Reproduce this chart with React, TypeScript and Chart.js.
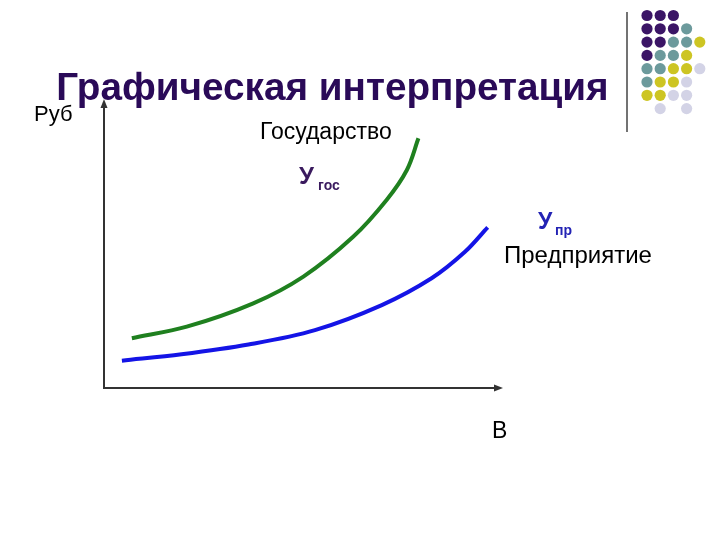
import React, { useEffect, useRef } from "react";
import { Chart, registerables } from "chart.js";

Chart.register(...registerables);

// ---- data (axis units 0..100) ----
const govX = [7, 20.8, 37.5, 50.1, 62.6, 71, 76.1, 79];
const govY = [17.3, 21.3, 29.4, 38.7, 52.5, 65.3, 75.7, 86.7];
const entX = [4.5, 19.5, 36.3, 53, 69.8, 82.3, 90.7, 96.4];
const entY = [9.5, 11.7, 15.1, 20.1, 28.8, 38.1, 47.3, 55.8];

const titleText = "Графическая интерпретация";
const yAxisLabel = "Руб";
const xAxisLabel = "В";
const govLabel = "Государство";
const entLabel = "Предприятие";
const govCurveMain = "У";
const govCurveSub = "гос";
const entCurveMain = "У";
const entCurveSub = "пр";

// decorative dot pattern (P purple, T teal, Y yellow, L lavender, . empty)
const dotRows = ["PPP..", "PPPT.", "PPTTY", "PTTY.", "TTYYL", "TYYL.", "YYLL.", ".L.L."];
const dotColors: Record<string, string> = {
  P: "#3b1566",
  T: "#6c9a9c",
  Y: "#cdc523",
  L: "#d3d3e6",
};

const FONT = '"Liberation Sans", Arial, sans-serif';

const decorPlugin = {
  id: "decor",
  afterDraw(chart: any) {
    const ctx: CanvasRenderingContext2D = chart.ctx;
    const a = chart.chartArea;
    ctx.save();

    // axes
    ctx.strokeStyle = "#333333";
    ctx.fillStyle = "#333333";
    ctx.lineWidth = 2;
    ctx.beginPath();
    ctx.moveTo(a.left, a.top + 6);
    ctx.lineTo(a.left, a.bottom);
    ctx.lineTo(a.right - 6, a.bottom);
    ctx.stroke();
    // arrow heads
    ctx.beginPath();
    ctx.moveTo(a.left, a.top - 1);
    ctx.lineTo(a.left - 3.5, a.top + 8);
    ctx.lineTo(a.left + 3.5, a.top + 8);
    ctx.closePath();
    ctx.fill();
    ctx.beginPath();
    ctx.moveTo(a.right + 1, a.bottom);
    ctx.lineTo(a.right - 8, a.bottom - 3.5);
    ctx.lineTo(a.right - 8, a.bottom + 3.5);
    ctx.closePath();
    ctx.fill();

    // title
    ctx.textBaseline = "alphabetic";
    ctx.textAlign = "center";
    ctx.fillStyle = "#2a0a58";
    ctx.font = `bold 38.7px ${FONT}`;
    ctx.fillText(titleText, 332.5, 100);
    ctx.textAlign = "left";

    // plain labels
    ctx.fillStyle = "#000000";
    ctx.font = `22px ${FONT}`;
    ctx.fillText(yAxisLabel, 34, 121);
    ctx.font = `23px ${FONT}`;
    ctx.fillText(govLabel, 260, 139);
    ctx.font = `24px ${FONT}`;
    ctx.fillText(entLabel, 504, 263);
    ctx.font = `23px ${FONT}`;
    ctx.fillText(xAxisLabel, 492, 438);

    // curve labels
    ctx.fillStyle = "#3a1a5e";
    ctx.font = `bold 24px ${FONT}`;
    ctx.fillText(govCurveMain, 299, 184);
    ctx.font = `bold 14px ${FONT}`;
    ctx.fillText(govCurveSub, 318, 190);

    ctx.fillStyle = "#2323b4";
    ctx.font = `bold 23px ${FONT}`;
    ctx.fillText(entCurveMain, 538, 229);
    ctx.font = `bold 14px ${FONT}`;
    ctx.fillText(entCurveSub, 555, 235);

    // separator line
    ctx.strokeStyle = "#444444";
    ctx.lineWidth = 1.5;
    ctx.beginPath();
    ctx.moveTo(627, 12);
    ctx.lineTo(627, 132);
    ctx.stroke();

    // dot grid
    dotRows.forEach((row, r) => {
      row.split("").forEach((c, col) => {
        const color = dotColors[c];
        if (!color) return;
        ctx.fillStyle = color;
        ctx.beginPath();
        ctx.arc(647 + col * 13.2, 15.5 + r * 13.3, 5.6, 0, Math.PI * 2);
        ctx.fill();
      });
    });

    ctx.restore();
  },
};

export default function App() {
  const ref = useRef<HTMLCanvasElement | null>(null);

  useEffect(() => {
    if (!ref.current) return;
    const chart = new Chart(ref.current, {
      type: "line",
      data: {
        datasets: [
          {
            label: govLabel,
            data: govX.map((x, i) => ({ x, y: govY[i] })),
            borderColor: "#1f801f",
            borderWidth: 4,
            pointRadius: 0,
            tension: 0.35,
            fill: false,
          },
          {
            label: entLabel,
            data: entX.map((x, i) => ({ x, y: entY[i] })),
            borderColor: "#1414e6",
            borderWidth: 4,
            pointRadius: 0,
            tension: 0.35,
            fill: false,
          },
        ],
      },
      options: {
        animation: false,
        responsive: false,
        devicePixelRatio: 1,
        layout: { padding: { left: 104, top: 100, right: 218, bottom: 152 } },
        plugins: { legend: { display: false }, title: { display: false }, tooltip: { enabled: false } },
        scales: {
          x: { type: "linear", min: 0, max: 100, display: false },
          y: { type: "linear", min: 0, max: 100, display: false },
        },
      } as any,
      plugins: [decorPlugin],
    });
    return () => chart.destroy();
  }, []);

  return (
    <div style={{ position: "fixed", left: 0, top: 0, width: 720, height: 540, background: "#ffffff" }}>
      <canvas ref={ref} width={720} height={540} style={{ display: "block" }} />
    </div>
  );
}
